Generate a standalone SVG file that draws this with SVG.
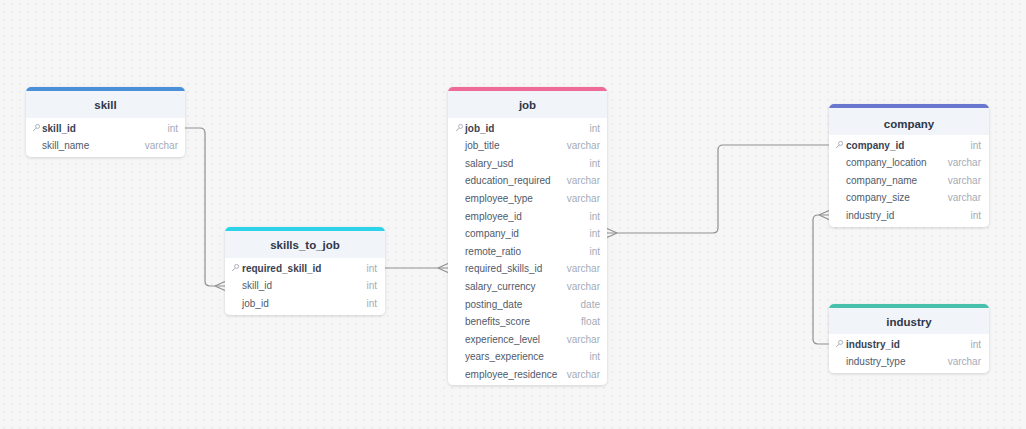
<svg xmlns="http://www.w3.org/2000/svg" width="1026" height="429" viewBox="0 0 1026 429">
<defs>
<pattern id="dots" width="8" height="8" patternUnits="userSpaceOnUse">
<rect width="8" height="8" fill="#f6f6f6"/>
<circle cx="4" cy="4" r="0.7" fill="#dcdcdc"/>
</pattern>
<filter id="sh" x="-10%" y="-10%" width="120%" height="130%">
<feDropShadow dx="0" dy="1" stdDeviation="1.5" flood-color="#000" flood-opacity="0.15"/>
</filter>
<g id="key"><circle cx="3.6" cy="-1.6" r="2" fill="none" stroke="#9aa0aa" stroke-width="0.8"/><path d="M2.2,0 L-0.8,3" stroke="#9aa0aa" stroke-width="0.9" fill="none"/></g>
</defs>
<style>
.box{fill:#ffffff;filter:url(#sh)}
.hdr{fill:#f1f4f9}
.title{font-family:"Liberation Sans",Arial,sans-serif;font-size:11.5px;font-weight:bold;fill:#2f3747;text-anchor:middle}
.col{font-family:"Liberation Sans",Arial,sans-serif;font-size:10px;fill:#505a6a}
.pk{font-weight:bold;fill:#3a4252}
.typ{font-family:"Liberation Sans",Arial,sans-serif;font-size:10px;fill:#a4abb8;text-anchor:end}
.ln{fill:none;stroke:#8f8f8f;stroke-width:1.2}
</style>
<rect width="1026" height="429" fill="url(#dots)"/>

<g id="connectors">
<path class="ln" d="M185,128 H200 Q205,128 205,133 V281 Q205,286 210,286 H225"/>
<path class="ln" d="M215,286 L225,281.5 M215,286 L225,290.5"/>
<path class="ln" d="M385,268 H448"/>
<path class="ln" d="M438,268 L448,263.5 M438,268 L448,272.5"/>
<path class="ln" d="M607,233 H713 Q718,233 718,228 V150 Q718,145 723,145 H829"/>
<path class="ln" d="M617,233 L607,228.5 M617,233 L607,237.5"/>
<path class="ln" d="M829,215 H818 Q813,215 813,220 V339 Q813,344 818,344 H829"/>
<path class="ln" d="M819,215 L829,210.5 M819,215 L829,219.5"/>
</g>

<g id="skill">
<rect class="box" x="26" y="87" width="159" height="70" rx="5"/>
<path d="M26,118 V92 a5,5 0 0 1 5,-5 H180 a5,5 0 0 1 5,5 V118 Z" fill="#4a90d9"/>
<rect class="hdr" x="26" y="91" width="159" height="27"/>
<text class="title" x="105.5" y="108.5">skill</text>
<use href="#key" x="34" y="128"/>
<text class="col pk" x="42" y="131.5">skill_id</text><text class="typ" x="178" y="131.5">int</text>
<text class="col" x="42" y="149">skill_name</text><text class="typ" x="178" y="149">varchar</text>
</g>

<g id="skills_to_job">
<rect class="box" x="225" y="227" width="160" height="88" rx="5"/>
<path d="M225,258 V232 a5,5 0 0 1 5,-5 H380 a5,5 0 0 1 5,5 V258 Z" fill="#2dd3e9"/>
<rect class="hdr" x="225" y="231" width="160" height="27"/>
<text class="title" x="305" y="249">skills_to_job</text>
<use href="#key" x="233" y="268"/>
<text class="col pk" x="242" y="271.5">required_skill_id</text><text class="typ" x="377" y="271.5">int</text>
<text class="col" x="242" y="289">skill_id</text><text class="typ" x="377" y="289">int</text>
<text class="col" x="242" y="306.5">job_id</text><text class="typ" x="377" y="306.5">int</text>
</g>

<g id="job">
<rect class="box" x="448" y="87" width="159" height="298" rx="5"/>
<path d="M448,118 V92 a5,5 0 0 1 5,-5 H602 a5,5 0 0 1 5,5 V118 Z" fill="#ef6a96"/>
<rect class="hdr" x="448" y="91" width="159" height="27"/>
<text class="title" x="527.5" y="108.5">job</text>
<use href="#key" x="457" y="128"/>
<text class="col pk" x="465" y="131.5">job_id</text><text class="typ" x="600" y="131.5">int</text>
<text class="col" x="465" y="149">job_title</text><text class="typ" x="600" y="149">varchar</text>
<text class="col" x="465" y="166.5">salary_usd</text><text class="typ" x="600" y="166.5">int</text>
<text class="col" x="465" y="184">education_required</text><text class="typ" x="600" y="184">varchar</text>
<text class="col" x="465" y="202">employee_type</text><text class="typ" x="600" y="202">varchar</text>
<text class="col" x="465" y="219.5">employee_id</text><text class="typ" x="600" y="219.5">int</text>
<text class="col" x="465" y="237">company_id</text><text class="typ" x="600" y="237">int</text>
<text class="col" x="465" y="254.5">remote_ratio</text><text class="typ" x="600" y="254.5">int</text>
<text class="col" x="465" y="272">required_skills_id</text><text class="typ" x="600" y="272">varchar</text>
<text class="col" x="465" y="290">salary_currency</text><text class="typ" x="600" y="290">varchar</text>
<text class="col" x="465" y="307.5">posting_date</text><text class="typ" x="600" y="307.5">date</text>
<text class="col" x="465" y="325">benefits_score</text><text class="typ" x="600" y="325">float</text>
<text class="col" x="465" y="342.5">experience_level</text><text class="typ" x="600" y="342.5">varchar</text>
<text class="col" x="465" y="360">years_experience</text><text class="typ" x="600" y="360">int</text>
<text class="col" x="465" y="377.5">employee_residence</text><text class="typ" x="600" y="377.5">varchar</text>
</g>

<g id="company">
<rect class="box" x="829" y="104" width="160" height="123" rx="5"/>
<path d="M829,135 V109 a5,5 0 0 1 5,-5 H984 a5,5 0 0 1 5,5 V135 Z" fill="#6a77cf"/>
<rect class="hdr" x="829" y="108" width="160" height="27"/>
<text class="title" x="909" y="127.5">company</text>
<use href="#key" x="837" y="145"/>
<text class="col pk" x="846" y="148.5">company_id</text><text class="typ" x="981" y="148.5">int</text>
<text class="col" x="846" y="166">company_location</text><text class="typ" x="981" y="166">varchar</text>
<text class="col" x="846" y="183.5">company_name</text><text class="typ" x="981" y="183.5">varchar</text>
<text class="col" x="846" y="201">company_size</text><text class="typ" x="981" y="201">varchar</text>
<text class="col" x="846" y="219">industry_id</text><text class="typ" x="981" y="219">int</text>
</g>

<g id="industry">
<rect class="box" x="829" y="304" width="160" height="69" rx="5"/>
<path d="M829,334 V309 a5,5 0 0 1 5,-5 H984 a5,5 0 0 1 5,5 V334 Z" fill="#47c1ac"/>
<rect class="hdr" x="829" y="308" width="160" height="26"/>
<text class="title" x="909" y="326">industry</text>
<use href="#key" x="837" y="344"/>
<text class="col pk" x="846" y="347.5">industry_id</text><text class="typ" x="981" y="347.5">int</text>
<text class="col" x="846" y="365">industry_type</text><text class="typ" x="981" y="365">varchar</text>
</g>
</svg>
